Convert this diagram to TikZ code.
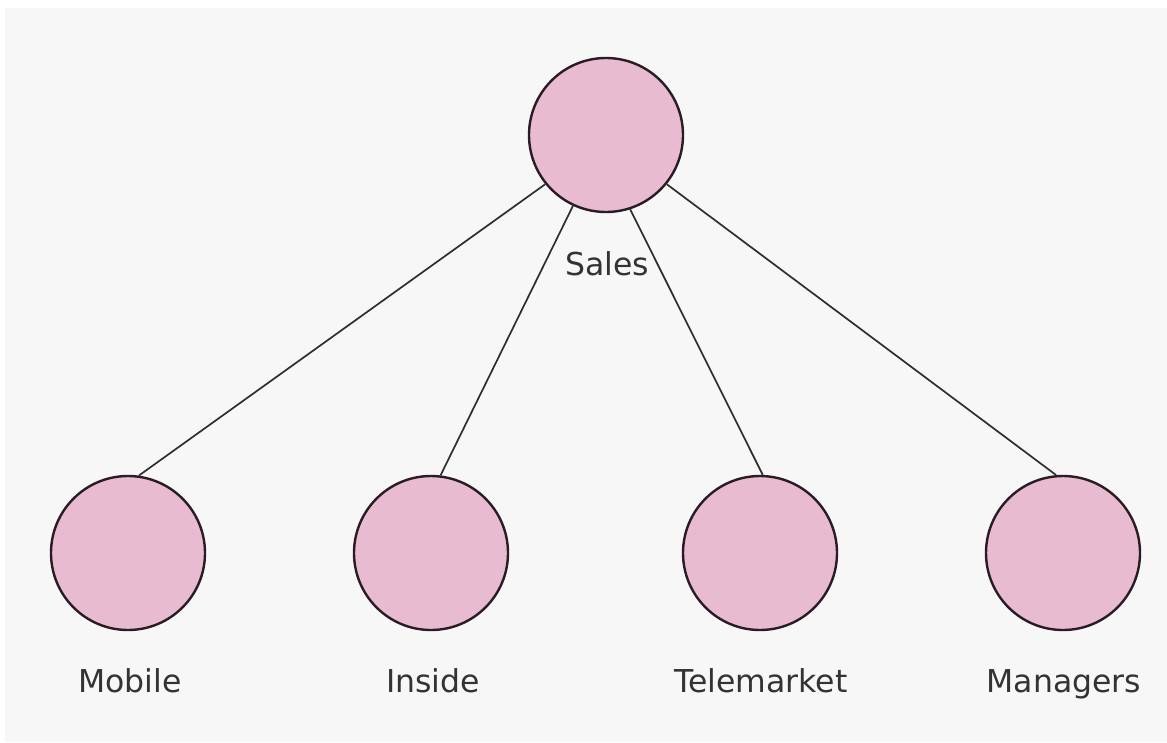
\documentclass[tikz,border=0pt]{standalone}
\usepackage{fontspec}
\setmainfont{DejaVu Sans}
\definecolor{bgray}{HTML}{F7F7F7}
\definecolor{pinkfill}{HTML}{E9BBD0}
\definecolor{rimcol}{HTML}{2A1C24}
\definecolor{linecol}{HTML}{2E2E2E}
\definecolor{txtcol}{HTML}{333333}
\tikzset{
  unit/.style={circle, draw=rimcol, fill=pinkfill, line width=2.4pt, minimum size=154pt, inner sep=0pt},
  lbl/.style={text=txtcol, font=\fontsize{31.5}{36}\selectfont, inner sep=0pt, anchor=base},
  link/.style={draw=linecol, line width=1.7pt}
}
\begin{document}
\begin{tikzpicture}[x=1pt, y=-1pt]
\useasboundingbox (0,0) rectangle (1167,742);
\fill[white] (0,0) rectangle (1167,742);
\fill[bgray] (5,8) rectangle (1167,742);

\node[unit] (sales) at (606,135) {};
\node[unit] (mobile) at (128,553) {};
\node[unit] (inside) at (431,553) {};
\node[unit] (tele) at (760,553) {};
\node[unit] (mgr) at (1063,553) {};

\node[lbl] (lsales) at (607,275) {Sales};
\node[lbl] (lmobile) at (130,692) {Mobile};
\node[lbl] (linside) at (433,692) {Inside};
\node[lbl] (ltele) at (761,692) {Telemarket};
\node[lbl] (lmgr) at (1064,692) {Managers};

\path[link] (sales.219.6) -- (mobile.82.7);
\path[link] (sales.245.6) -- (inside.83.4);
\path[link] (sales.288.4) -- (tele.88.5);
\path[link] (sales.321.2) -- (mgr.95.8);
\end{tikzpicture}
\end{document}
